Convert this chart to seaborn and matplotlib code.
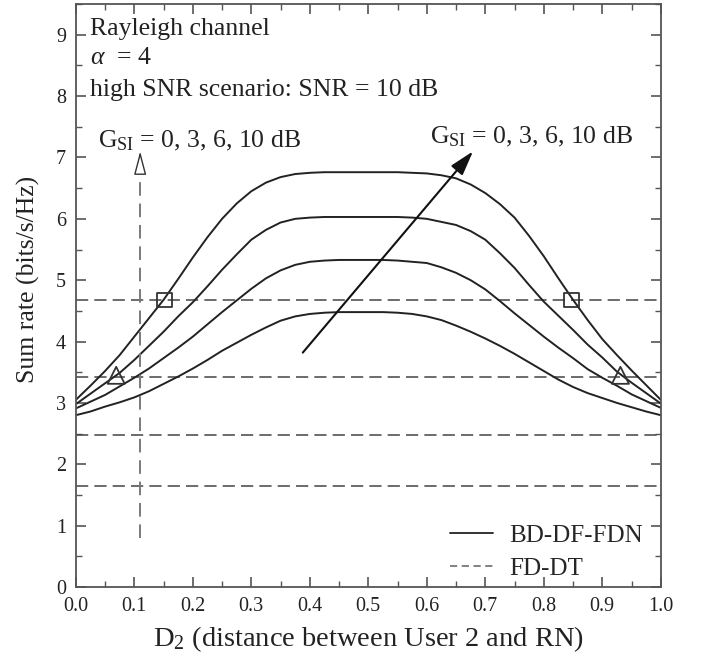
import numpy as np
import pandas as pd
import matplotlib
matplotlib.use("Agg")
import matplotlib.pyplot as plt
import seaborn as sns
from matplotlib.lines import Line2D
from matplotlib.ticker import MultipleLocator

# ---------------- data ----------------
d2 = [0.000, 0.025, 0.050, 0.075, 0.100, 0.125, 0.150, 0.175, 0.200, 0.225,
      0.250, 0.275, 0.300, 0.325, 0.350, 0.375, 0.400, 0.425, 0.450, 0.475,
      0.500, 0.525, 0.550, 0.575, 0.600, 0.625, 0.650, 0.675, 0.700, 0.725,
      0.750, 0.775, 0.800, 0.825, 0.850, 0.875, 0.900, 0.925, 0.950, 0.975,
      1.000]
rate_g0 = [3.05, 3.28, 3.52, 3.78, 4.08, 4.38, 4.68, 5.02, 5.37, 5.70,
           6.00, 6.25, 6.45, 6.59, 6.68, 6.73, 6.75, 6.76, 6.76, 6.76,
           6.76, 6.76, 6.76, 6.75, 6.74, 6.71, 6.66, 6.56, 6.42, 6.24,
           6.02, 5.72, 5.39, 5.03, 4.68, 4.35, 4.04, 3.78, 3.53, 3.29,
           3.05]
rate_g3 = [2.98, 3.15, 3.32, 3.49, 3.70, 3.93, 4.16, 4.41, 4.64, 4.90,
           5.17, 5.42, 5.66, 5.82, 5.94, 6.00, 6.02, 6.03, 6.03, 6.03,
           6.03, 6.03, 6.03, 6.02, 6.00, 5.95, 5.90, 5.80, 5.66, 5.44,
           5.20, 4.92, 4.65, 4.42, 4.19, 3.95, 3.74, 3.51, 3.33, 3.16,
           2.99]
rate_g6 = [2.91, 3.02, 3.13, 3.27, 3.41, 3.56, 3.73, 3.90, 4.08, 4.28,
           4.48, 4.67, 4.86, 5.03, 5.16, 5.25, 5.30, 5.32, 5.33, 5.33,
           5.33, 5.33, 5.32, 5.30, 5.28, 5.21, 5.12, 5.00, 4.85, 4.66,
           4.46, 4.27, 4.08, 3.90, 3.73, 3.55, 3.41, 3.28, 3.14, 3.03,
           2.92]
rate_g10 = [2.80, 2.86, 2.94, 3.01, 3.09, 3.19, 3.31, 3.43, 3.56, 3.70,
            3.85, 3.98, 4.11, 4.23, 4.34, 4.41, 4.45, 4.47, 4.48, 4.48,
            4.48, 4.48, 4.47, 4.45, 4.41, 4.35, 4.26, 4.16, 4.05, 3.93,
            3.80, 3.66, 3.52, 3.38, 3.26, 3.16, 3.08, 3.00, 2.93, 2.86,
            2.80]
series_names = ["G0", "G3", "G6", "G10"]
fddt_levels = [4.68, 3.43, 2.47, 1.65]
square_x = [0.152, 0.847]
square_y = [4.68, 4.68]
tri_x = [0.069, 0.931]
tri_y = [3.45, 3.45]
legend_labels = ["BD-DF-FDN", "FD-DT"]

df = pd.DataFrame({
    "d2": d2 * 4,
    "rate": rate_g0 + rate_g3 + rate_g6 + rate_g10,
    "gsi": sum([[n] * len(d2) for n in series_names], []),
})

# ---------------- style ----------------
sns.set_theme(style="ticks")
plt.rcParams["font.family"] = ["Liberation Serif", "DejaVu Serif"]
plt.rcParams["mathtext.fontset"] = "custom"
plt.rcParams["mathtext.rm"] = "Liberation Serif"
plt.rcParams["mathtext.it"] = "Liberation Serif:italic"
plt.rcParams["mathtext.bf"] = "Liberation Serif:bold"

fig = plt.figure(figsize=(7.02, 6.55), dpi=100)
ax = fig.add_axes([0.108, 0.1038, 0.8333, 0.8900])

curve_col = "#222222"
sns.lineplot(data=df, x="d2", y="rate", units="gsi", estimator=None,
             color=curve_col, lw=1.4, ax=ax, legend=False)

for lvl in fddt_levels:
    ax.axhline(lvl, color="#444444", lw=1.1, ls=(0, (8, 4)), zorder=1)

# vertical dashed guide with open arrowhead
ax.vlines(0.11, 0.8, 6.76, colors="#7a7a7a", lw=1.4, linestyles=[(0, (7, 4))])
ax.annotate("", xy=(0.11, 7.1), xytext=(0.11, 6.76),
            arrowprops=dict(arrowstyle="-|>,head_length=1.45,head_width=0.38",
                            fc="white", ec="#333333", lw=1.0,
                            shrinkA=0, shrinkB=0, mutation_scale=10))

# big black arrow
ax.annotate("", xy=(0.679, 7.1), xytext=(0.388, 3.82),
            arrowprops=dict(arrowstyle="-|>,head_length=1.5,head_width=0.45",
                            fc="#111111", ec="#111111", lw=1.5,
                            shrinkA=0, shrinkB=0, mutation_scale=10))

sns.scatterplot(x=square_x, y=square_y, marker="s", s=110, facecolor="none",
                edgecolor="#333333", linewidth=1.3, ax=ax, zorder=5)
sns.scatterplot(x=tri_x, y=tri_y, marker="^", s=150, facecolor="none",
                edgecolor="#333333", linewidth=1.3, ax=ax, zorder=5)

# texts
tfs = 18.5
ax.text(0.024, 9.0, "Rayleigh channel", fontsize=tfs, va="baseline", color="#222222")
ax.text(0.024, 8.52, r"$\alpha$  = 4", fontsize=tfs, va="baseline", color="#222222")
ax.text(0.024, 8.0, "high SNR scenario: SNR = 10 dB", fontsize=tfs, va="baseline", color="#222222")
ax.text(0.038, 7.16, r"G$_{\mathrm{SI}}$ = 0, 3, 6, 10 dB", fontsize=tfs,
        va="baseline", color="#222222")
ax.text(0.606, 7.23, r"G$_{\mathrm{SI}}$ = 0, 3, 6, 10 dB", fontsize=tfs,
        va="baseline", color="#222222")

# axes
ax.set_xlim(0, 1.0)
ax.set_ylim(0, 9.5)
ax.xaxis.set_minor_locator(MultipleLocator(0.05))
ax.yaxis.set_minor_locator(MultipleLocator(0.5))
ax.set_xticks(np.arange(0, 1.01, 0.1))
ax.set_xticklabels([f"{v:.1f}" for v in np.arange(0, 1.01, 0.1)])
ax.set_yticks(range(0, 10))
ax.set_yticklabels([str(v) for v in range(0, 10)])
ax.tick_params(which="both", direction="in", top=True, right=True,
               color="#555555", labelsize=14.5, labelcolor="#222222")
ax.tick_params(which="major", length=7, width=1.2, pad=7)
ax.tick_params(which="minor", length=4, width=1.0)
for s in ax.spines.values():
    s.set_color("#555555")
    s.set_linewidth(1.3)

ax.set_xlabel(r"D$_2$ (distance between User 2 and RN)", fontsize=20.5, color="#222222", labelpad=6)
ax.set_ylabel("Sum rate (bits/s/Hz)", fontsize=18.5, color="#222222")
ax.yaxis.set_label_coords(-0.061, 0.527)

handles = [Line2D([], [], color=curve_col, lw=1.3),
           Line2D([], [], color="#777777", lw=1.3, ls=(0, (4, 2.5)))]
ax.legend(handles, legend_labels, loc="lower right", frameon=False,
          fontsize=18, handlelength=1.75, handletextpad=0.65, labelspacing=0.42,
          bbox_to_anchor=(1.0, -0.018), borderaxespad=0.3)

fig.savefig("out.png", dpi=100)
